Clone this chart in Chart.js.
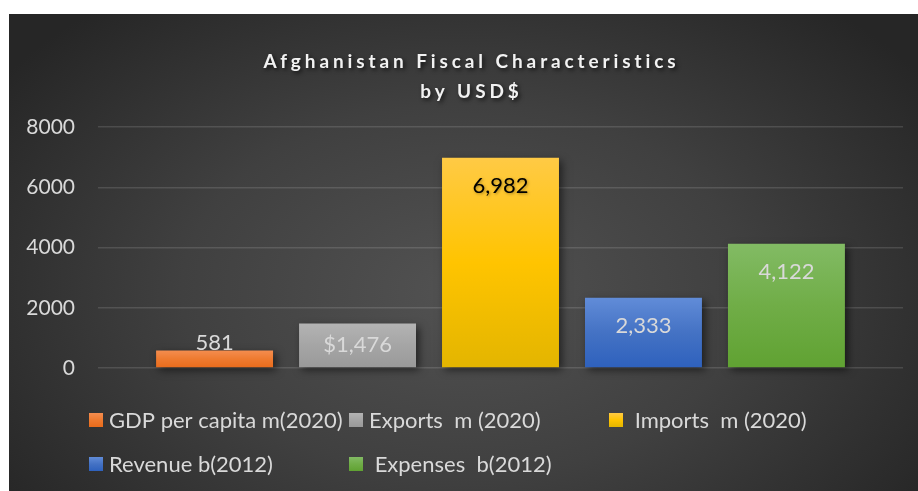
<!DOCTYPE html>
<html>
<head>
<meta charset="utf-8">
<title>Afghanistan Fiscal Characteristics</title>
<script src="https://cdn.jsdelivr.net/npm/chart.js@4.4.1/dist/chart.umd.min.js"></script>
<style>
    html, body { margin: 0; padding: 0; background: #ffffff; }
    #wrap {
        position: absolute;
        left: 9px;
        top: 14px;
        width: 909px;
        height: 477px;
        background: radial-gradient(ellipse 62% 78% at 50% 58%, #525252 0%, #404040 50%, #262626 100%);
    }
    canvas { display: block; }
</style>
</head>
<body>
<div id="wrap">
    <canvas id="fiscalChart" width="909" height="477"></canvas>
</div>
<script>
    // series shown in the chart, one bar each
    const seriesNames = ['GDP per capita m(2020)', 'Exports  m (2020)', ' Imports  m (2020)', 'Revenue b(2012)', ' Expenses  b(2012)'];
    const seriesValues = [581, 1476, 6982, 2333, 4122];
    const valuePrefixes = ['', '$', '', '', ''];
    const categories = [''];
    const yTicks = [0, 2000, 4000, 6000, 8000];
    const titleLines = ['Afghanistan Fiscal Characteristics', 'by USD$'];

    // gradient stops per series (top -> bottom)
    const barStops = [
        ['#f48d4f', '#ee7a2f', '#e96b1b'],
        ['#b3b3b3', '#a5a5a5', '#999999'],
        ['#ffca45', '#ffc400', '#e3b500'],
        ['#618cd8', '#4472c4', '#2e61bd'],
        ['#82bb64', '#70ad47', '#60a232']
    ];
    const labelColors = ['#d9d9d9', '#d9d9d9', '#000000', '#d9d9d9', '#d9d9d9'];

    const FONT = 'Lato, "Liberation Sans", sans-serif';

    function barGradient(ctx, top, bottom, stops) {
        const g = ctx.createLinearGradient(0, top, 0, bottom);
        g.addColorStop(0, stops[0]);
        g.addColorStop(0.5, stops[1]);
        g.addColorStop(1, stops[2]);
        return g;
    }

    const datasets = seriesNames.map(function (name, i) {
        return {
            label: name,
            data: [seriesValues[i]],
            clip: false,
            backgroundColor: function (c) {
                const chart = c.chart;
                if (!chart.chartArea) return barStops[i][1];
                const top = chart.scales.y.getPixelForValue(seriesValues[i]);
                return barGradient(chart.ctx, top, chart.chartArea.bottom, barStops[i]);
            }
        };
    });

    // soft drop shadow under each bar
    const barShadow = {
        id: 'barShadow',
        beforeDatasetDraw(chart) {
            const ctx = chart.ctx;
            ctx.save();
            ctx.shadowColor = 'rgba(0, 0, 0, 0.55)';
            ctx.shadowBlur = 8;
            ctx.shadowOffsetX = 3;
            ctx.shadowOffsetY = 3;
        },
        afterDatasetDraw(chart) {
            chart.ctx.restore();
        }
    };

    // value labels: near the top inside tall bars, centred in mid bars, above short ones
    const valueLabels = {
        id: 'valueLabels',
        afterDatasetsDraw(chart) {
            const ctx = chart.ctx;
            ctx.save();
            ctx.font = '22px ' + FONT;
            ctx.textAlign = 'center';
            ctx.textBaseline = 'middle';
            chart.data.datasets.forEach(function (ds, i) {
                const el = chart.getDatasetMeta(i).data[0];
                const p = el.getProps(['x', 'y', 'base'], true);
                const h = p.base - p.y;
                let ly;
                if (h >= 60) ly = p.y + 28;
                else if (h >= 30) ly = (p.y + p.base) / 2;
                else ly = p.y - 8;
                const text = valuePrefixes[i] + ds.data[0].toLocaleString('en-US');
                if (labelColors[i] === '#000000') {
                    ctx.shadowColor = 'rgba(0, 0, 0, 0.35)';
                    ctx.shadowBlur = 3;
                    ctx.shadowOffsetX = 1;
                    ctx.shadowOffsetY = 1;
                } else {
                    ctx.shadowColor = 'transparent';
                }
                ctx.fillStyle = labelColors[i];
                ctx.fillText(text, p.x, ly);
            });
            ctx.restore();
        }
    };

    // spaced-out bold title with a shadow
    const spacedTitle = {
        id: 'spacedTitle',
        afterDraw(chart) {
            const ctx = chart.ctx;
            ctx.save();
            ctx.font = 'bold 19px ' + FONT;
            ctx.letterSpacing = '3.9px';
            ctx.textAlign = 'center';
            ctx.textBaseline = 'middle';
            ctx.fillStyle = '#f2f2f2';
            ctx.shadowColor = 'rgba(0, 0, 0, 0.7)';
            ctx.shadowBlur = 4;
            ctx.shadowOffsetX = 2;
            ctx.shadowOffsetY = 2;
            const cx = chart.width / 2 + 8;
            ctx.fillText(titleLines[0], cx, 48);
            ctx.fillText(titleLines[1], cx, 78);
            ctx.restore();
        }
    };

    // legend laid out in fixed columns under the plot
    const gridLegend = {
        id: 'gridLegend',
        afterDraw(chart) {
            const ctx = chart.ctx;
            const left = chart.chartArea.left - 9;
            const colW = 260;
            const rowY = [406, 450];
            ctx.save();
            ctx.font = '22px ' + FONT;
            ctx.textBaseline = 'middle';
            ctx.textAlign = 'left';
            chart.data.datasets.forEach(function (ds, i) {
                const col = i < 3 ? i : i - 3;
                const row = i < 3 ? 0 : 1;
                const x = left + col * colW;
                const y = rowY[row];
                ctx.fillStyle = barGradient(ctx, y - 7, y + 7, barStops[i]);
                ctx.fillRect(x, y - 7, 14, 14);
                ctx.fillStyle = '#d9d9d9';
                ctx.fillText(ds.label, x + 20, y + 1);
            });
            ctx.restore();
        }
    };

    const ctx = document.getElementById('fiscalChart').getContext('2d');
    const fiscalChart = new Chart(ctx, {
        type: 'bar',
        data: {
            labels: categories,
            datasets: datasets
        },
        plugins: [barShadow, valueLabels, spacedTitle, gridLegend],
        options: {
            responsive: false,
            animation: false,
            categoryPercentage: 0.888,
            barPercentage: 0.818,
            layout: {
                padding: { top: 113, bottom: 123, left: 9, right: 15 }
            },
            plugins: {
                legend: { display: false },
                title: { display: false },
                tooltip: { enabled: false }
            },
            scales: {
                x: {
                    display: false
                },
                y: {
                    min: yTicks[0],
                    max: yTicks[yTicks.length - 1],
                    afterBuildTicks(scale) {
                        scale.ticks = yTicks.map(function (v) { return { value: v }; });
                    },
                    afterFit(scale) {
                        scale.width = 80;
                    },
                    border: { display: false },
                    grid: {
                        color: 'rgba(255, 255, 255, 0.13)',
                        lineWidth: 1.5,
                        drawTicks: false
                    },
                    ticks: {
                        padding: 23,
                        color: '#d9d9d9',
                        font: { family: FONT, size: 21 },
                        callback: function (v) { return String(v); }
                    }
                }
            }
        }
    });
</script>
</body>
</html>
